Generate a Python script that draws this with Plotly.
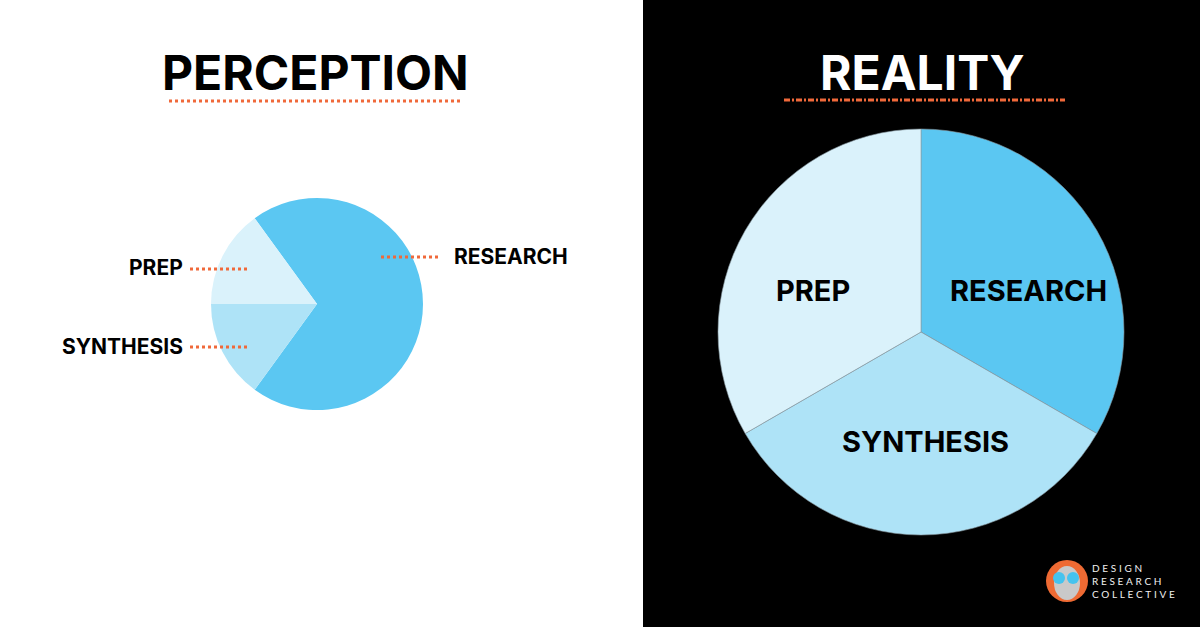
import plotly.graph_objects as go

W, H = 1200, 627

# ---- data ----
categories = ["RESEARCH", "SYNTHESIS", "PREP"]
perception_values = [70, 15, 15]
reality_values = [33.3, 33.3, 33.3]
panel_titles = ["PERCEPTION", "REALITY"]
slice_colors = ["#5BC7F2", "#AEE3F7", "#DAF2FB"]
brand_lines = ["DESIGN", "RESEARCH", "COLLECTIVE"]

ORANGE = "#F0693A"
FONT = "Inter"


def px(x):
    return x / W


def py(y):
    return 1 - y / H


def dom(cx, cy, r):
    return dict(x=[px(cx - r), px(cx + r)], y=[py(cy + r), py(cy - r)])


fig = go.Figure()

# Perception pie (left)
fig.add_trace(go.Pie(
    labels=categories, values=perception_values, sort=False,
    direction="clockwise", rotation=-36,
    marker=dict(colors=slice_colors, line=dict(width=0)),
    textinfo="none", hoverinfo="label+percent", showlegend=False,
    domain=dom(317, 304, 106),
))

# Reality pie (right)
fig.add_trace(go.Pie(
    labels=categories, values=reality_values, sort=False,
    direction="clockwise", rotation=0,
    marker=dict(colors=slice_colors, line=dict(width=0.6, color="#8a9aa3")),
    textinfo="none", hoverinfo="label+percent", showlegend=False,
    domain=dom(921, 332, 203),
))

shapes = []
annotations = []

# black right panel
shapes.append(dict(type="rect", xref="paper", yref="paper", x0=px(643), x1=1, y0=0, y1=1,
                   fillcolor="black", line=dict(width=0), layer="below"))

# titles + underlines
title_pos = [(315, 73, "black", 169, 461, 101, "dot"),
             (922, 72, "white", 784, 1065, 100, "6px,2px,2px,2px")]
for t, (cx, cy, col, x0, x1, ly, dash) in zip(panel_titles, title_pos):
    annotations.append(dict(text=t, x=px(cx), y=py(cy), xref="paper", yref="paper",
                            xanchor="center", yanchor="middle", showarrow=False,
                            borderpad=0, borderwidth=0,
                            font=dict(family=FONT, size=48, color=col, weight=700)))
    shapes.append(dict(type="line", xref="paper", yref="paper", x0=px(x0), x1=px(x1),
                       y0=py(ly), y1=py(ly), line=dict(color=ORANGE, width=3, dash=dash)))

# left pie labels with leader lines
left_label_pos = {
    "RESEARCH": dict(tx=454, ty=256, anchor="left", lx0=381, lx1=438),
    "SYNTHESIS": dict(tx=183, ty=346, anchor="right", lx0=190, lx1=247),
    "PREP": dict(tx=183, ty=268, anchor="right", lx0=190, lx1=247),
}
for cat in categories:
    p = left_label_pos[cat]
    annotations.append(dict(text=cat, x=px(p["tx"]), y=py(p["ty"]), xref="paper", yref="paper",
                            xanchor=p["anchor"], yanchor="middle", showarrow=False,
                            borderpad=0, borderwidth=0,
                            font=dict(family=FONT, size=21, color="black", weight=700)))
    ly = p["ty"] + 1
    shapes.append(dict(type="line", xref="paper", yref="paper", x0=px(p["lx0"]), x1=px(p["lx1"]),
                       y0=py(ly), y1=py(ly), line=dict(color=ORANGE, width=3, dash="dot")))

# right pie labels (inside)
right_label_pos = {"RESEARCH": (1028, 290), "SYNTHESIS": (926, 441), "PREP": (813, 290)}
for cat in categories:
    x, y = right_label_pos[cat]
    annotations.append(dict(text=cat, x=px(x), y=py(y), xref="paper", yref="paper",
                            xanchor="center", yanchor="middle", showarrow=False,
                            borderpad=0, borderwidth=0,
                            font=dict(family=FONT, size=29, color="black", weight=700)))

# logo
shapes.append(dict(type="circle", xref="paper", yref="paper",
                   x0=px(1046), x1=px(1088), y0=py(602), y1=py(560),
                   fillcolor="#EE6A33", line=dict(width=0)))
shapes.append(dict(type="circle", xref="paper", yref="paper",
                   x0=px(1054), x1=px(1080), y0=py(600), y1=py(566),
                   fillcolor="#c9c9c9", line=dict(width=0)))
for bx in (1059, 1073):
    shapes.append(dict(type="circle", xref="paper", yref="paper",
                       x0=px(bx - 6), x1=px(bx + 6), y0=py(584), y1=py(572),
                       fillcolor="#45C3EE", line=dict(width=0)))
brand_text = "<br>".join(f'<span style="letter-spacing:2.7px">{s}</span>' for s in brand_lines)
annotations.append(dict(text=brand_text, x=px(1092), y=py(581), xref="paper", yref="paper",
                        xanchor="left", yanchor="middle", align="left", showarrow=False,
                        borderpad=0, borderwidth=0,
                        font=dict(family="Lato", size=10, color="#f0f0f0", weight=400)))

fig.update_layout(
    width=W, height=H, margin=dict(l=0, r=0, t=0, b=0),
    paper_bgcolor="white", plot_bgcolor="white",
    shapes=shapes, annotations=annotations,
)

fig.write_html("out.html", config={"displayModeBar": False},
               post_script="document.body.style.margin='0';document.body.style.overflow='hidden';")
